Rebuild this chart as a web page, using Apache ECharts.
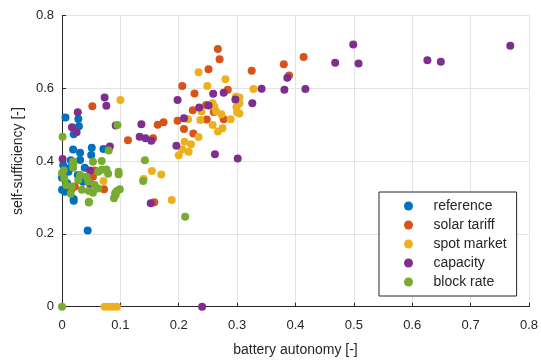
<!DOCTYPE html>
<html><head><meta charset="utf-8">
<script src="https://cdn.jsdelivr.net/npm/echarts@6/dist/echarts.min.js"></script>
<style>html,body{margin:0;padding:0;background:#fff}#c{width:541px;height:362px}</style>
</head><body><div id="c"></div>
<script>
const seriesNames = ["reference", "solar tariff", "spot market", "capacity", "block rate"];
const seriesColors = ["#0072BD", "#D95319", "#EDB120", "#7E2F8E", "#77AC30"];
const xTicks = [0, 0.1, 0.2, 0.3, 0.4, 0.5, 0.6, 0.7, 0.8];
const yTicks = [0, 0.2, 0.4, 0.6, 0.8];

const reference = [
  [0.006,0.520],[0.028,0.516],[0.029,0.496],[0.020,0.474],[0.019,0.432],[0.031,0.423],
  [0.051,0.437],[0.050,0.417],[0.071,0.433],[0.015,0.402],[0.011,0.371],[0.027,0.362],
  [0.039,0.382],[0.000,0.321],[0.005,0.316],[0.009,0.339],[0.020,0.296],[0.036,0.343],
  [0.044,0.209],[0.020,0.291],[0.014,0.382],[0.002,0.389],[0.000,0.354],[0.031,0.403]
];
const solarTariff = [
  [0.052,0.551],[0.113,0.457],[0.164,0.500],[0.174,0.507],[0.198,0.511],[0.156,0.463],
  [0.072,0.323],[0.158,0.287],[0.267,0.708],[0.270,0.680],[0.251,0.652],[0.206,0.606],
  [0.227,0.586],[0.284,0.596],[0.325,0.648],[0.224,0.540],[0.248,0.514],[0.277,0.515],
  [0.260,0.535],[0.209,0.488],[0.225,0.476],[0.247,0.554],[0.380,0.666],[0.414,0.686],
  [0.389,0.635],[0.017,0.325],[0.022,0.330],[0.053,0.357],[0.056,0.374]
];
const spotMarket = [
  [0.100,0.568],[0.073,0],[0.080,0],[0.087,0],[0.094,0],[0.154,0.373],[0.170,0.363],
  [0.140,0.351],[0.188,0.293],[0.071,0.345],[0.234,0.644],[0.249,0.606],[0.280,0.625],
  [0.298,0.577],[0.304,0.575],[0.328,0.598],[0.216,0.515],[0.239,0.536],[0.237,0.513],
  [0.261,0.549],[0.264,0.536],[0.273,0.529],[0.289,0.515],[0.299,0.548],[0.300,0.534],
  [0.258,0.499],[0.267,0.481],[0.275,0.490],[0.234,0.466],[0.210,0.453],[0.221,0.446],
  [0.206,0.432],[0.217,0.426],[0.200,0.416],[0.304,0.559],[0.304,0.531],[0.258,0.559]
];
const capacity = [
  [0.073,0.575],[0.076,0.552],[0.027,0.534],[0.017,0.493],[0.025,0.479],[0.092,0.498],
  [0.133,0.467],[0.082,0.440],[0.001,0.406],[0.136,0.501],[0.198,0.568],[0.143,0.463],
  [0.153,0.456],[0.196,0.442],[0.152,0.284],[0.209,0.518],[0.235,0.547],[0.251,0.553],
  [0.259,0.585],[0.277,0.588],[0.297,0.569],[0.326,0.559],[0.262,0.419],[0.301,0.407],
  [0.240,0],[0.499,0.720],[0.468,0.670],[0.508,0.668],[0.626,0.677],[0.649,0.673],
  [0.768,0.717],[0.342,0.599],[0.381,0.596],[0.417,0.598],[0.386,0.629],[0.048,0.374],
  [0.048,0.337]
];
const blockRate = [
  [0.001,0.467],[0.095,0.499],[0.080,0.429],[0,0],[0.046,0.286],[0.142,0.402],
  [0.068,0.400],[0.068,0.376],[0.076,0.377],[0.079,0.365],[0.097,0.371],[0.097,0.364],
  [0.139,0.345],[0.091,0.312],[0.099,0.323],[0.094,0.318],[0.211,0.247],[0.003,0.374],
  [0.004,0.352],[0.015,0.310],[0.017,0.330],[0.019,0.382],[0.019,0.392],[0.028,0.348],
  [0.042,0.357],[0.045,0.343],[0.053,0.398],[0.062,0.371],[0.062,0.325],[0.046,0.318],
  [0.053,0.313],[0.046,0.288],[0.092,0.307],[0.089,0.298],[0.019,0.399],[0.031,0.362],
  [0.007,0.334],[0.034,0.321],[0.000,0.367],[0.056,0.334]
];
const allData = [reference, solarTariff, spotMarket, capacity, blockRate];

const chart = echarts.init(document.getElementById('c'), null, {renderer: 'canvas'});
const axisColor = '#262626';
const font = 'Liberation Sans, Arial, Helvetica, sans-serif';
chart.setOption({
  animation: false,
  backgroundColor: '#fff',
  grid: {left: 62, right: 11, top: 15.5, bottom: 55.3, containLabel: false},
  xAxis: {
    type: 'value', min: xTicks[0], max: xTicks[xTicks.length-1], interval: 0.1,
    name: 'battery autonomy [-]', nameLocation: 'middle', nameGap: 36,
    nameTextStyle: {fontFamily: font, fontSize: 14, color: axisColor},
    axisLine: {show: true, onZero: false, lineStyle: {color: axisColor, width: 1}},
    axisTick: {show: true, inside: true, length: 4, lineStyle: {color: axisColor}},
    axisLabel: {fontFamily: font, fontSize: 13, color: axisColor, margin: 12,
      formatter: v => String(+v.toFixed(1))},
    splitLine: {show: true, lineStyle: {color: '#e3e3e3', width: 1}}
  },
  yAxis: {
    type: 'value', min: yTicks[0], max: yTicks[yTicks.length-1], interval: 0.2,
    name: 'self-sufficiency [-]', nameLocation: 'middle', nameGap: 36,
    nameTextStyle: {fontFamily: font, fontSize: 14, color: axisColor},
    axisLine: {show: true, onZero: false, lineStyle: {color: axisColor, width: 1}},
    axisTick: {show: true, inside: true, length: 4, lineStyle: {color: axisColor}},
    axisLabel: {fontFamily: font, fontSize: 13, color: axisColor, margin: 8,
      formatter: v => String(+v.toFixed(1))},
    splitLine: {show: true, lineStyle: {color: '#e3e3e3', width: 1}}
  },
  legend: {
    left: 379, top: 192, orient: 'vertical',
    backgroundColor: '#fff', borderColor: axisColor, borderWidth: 1,
    padding: [7, 10, 7, 25], itemGap: 5, itemWidth: 40, itemHeight: 9,
    icon: 'circle',
    textStyle: {fontFamily: font, fontSize: 14, color: axisColor},
    data: seriesNames
  },
  series: seriesNames.map((n, i) => ({
    name: n, type: 'scatter', data: allData[i], symbolSize: 8, clip: false,
    itemStyle: {color: seriesColors[i], opacity: 1},
    z: 2 + i
  }))
});
</script></body></html>
